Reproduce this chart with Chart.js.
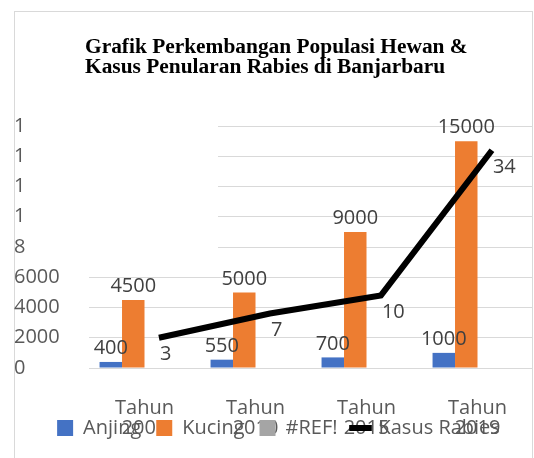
<!DOCTYPE html>
<html><head><meta charset="utf-8">
<script src="https://cdn.jsdelivr.net/npm/chart.js@4"></script>
<style>html,body{margin:0;padding:0;background:#fff;}</style>
</head><body>
<canvas id="c" width="534" height="458"></canvas>
<script>
const titleLines = ['Grafik Perkembangan Populasi Hewan &', 'Kasus Penularan Rabies di Banjarbaru'];
const categoryPrefix = 'Tahun';
const yearLabels = ['2005', '2010', '2015', '2019'];
const anjing = [400, 550, 700, 1000];
const kucing = [4500, 5000, 9000, 15000];
const refErr = [0, 0, 0, 0];
const kasusRabies = [3, 7, 10, 34];
const yTickLabels = ['0', '2000', '4000', '6000', '8', '1', '1', '1', '1'];
const seriesNames = ['Anjing', 'Kucing', '#REF!', 'Kasus Rabies'];
const seriesColors = ['#4472C4', '#ED7D31', '#A5A5A5', '#000000'];

Chart.defaults.font.family = '"Open Sans", sans-serif';
Chart.defaults.font.size = 20;
Chart.defaults.color = '#595959';
// bars share one index axis; the line's own hidden x axis must not split the bar groups
if (Chart.BarController && Chart.BarController.prototype._getAxisCount) {
  Chart.BarController.prototype._getAxisCount = function () { return 1; };
}

const framePlugin = {
  id: 'frameTitle',
  afterLayout(chart) {
    if (chart.legend) { chart.legend.left += 5; chart.legend.right += 5; }
  },
  beforeDraw(chart) {
    const ctx = chart.ctx;
    ctx.save();
    ctx.fillStyle = '#ffffff';
    ctx.fillRect(0, 0, chart.width, chart.height);
    ctx.strokeStyle = '#d9d9d9';
    ctx.lineWidth = 1;
    ctx.strokeRect(14.5, 11.5, 518, 470);
    ctx.fillStyle = '#000000';
    ctx.font = 'bold 21.4px "Liberation Serif", serif';
    ctx.textAlign = 'left';
    ctx.textBaseline = 'alphabetic';
    ctx.fillText(titleLines[0], 85, 53);
    ctx.fillText(titleLines[1], 85, 73);
    ctx.restore();
  }
};

const coverPlugin = {
  id: 'cover',
  beforeDatasetsDraw(chart) {
    const ctx = chart.ctx, a = chart.chartArea, y = chart.scales.y;
    ctx.save();
    ctx.fillStyle = '#ffffff';
    const bottom = y.getPixelForValue(7000);
    ctx.fillRect(a.left, a.top - 4, 129, bottom - a.top + 4);
    ctx.restore();
  }
};

const labelPlugin = {
  id: 'valueLabels',
  afterDatasetsDraw(chart) {
    const ctx = chart.ctx;
    ctx.save();
    ctx.font = '20px "Open Sans", sans-serif';
    ctx.fillStyle = '#404040';
    chart.data.datasets.forEach((ds, di) => {
      if (!ds.showValues) return;
      const meta = chart.getDatasetMeta(di);
      meta.data.forEach((el, i) => {
        const v = ds.data[i];
        const val = (typeof v === 'object' && v !== null) ? v.y : v;
        ctx.textBaseline = 'middle';
        if (ds.type === 'line') {
          ctx.textAlign = 'left';
          ctx.fillText(String(val), el.x + 1, el.y + 17);
        } else {
          ctx.textAlign = 'center';
          ctx.fillText(String(val), el.x, el.y - 13.5);
        }
      });
    });
    ctx.restore();
  }
};

new Chart(document.getElementById('c'), {
  type: 'bar',
  data: {
    labels: yearLabels.map(y => [categoryPrefix, y]),
    datasets: [
      { label: seriesNames[0], data: anjing, backgroundColor: seriesColors[0], borderWidth: 0, pointStyle: 'rect', showValues: true },
      { label: seriesNames[1], data: kucing, backgroundColor: seriesColors[1], borderWidth: 0, pointStyle: 'rect', showValues: true },
      { label: seriesNames[2], data: refErr, backgroundColor: seriesColors[2], borderWidth: 0, pointStyle: 'rect', showValues: false },
      { label: '', data: yearLabels.map(() => null), backgroundColor: 'rgba(0,0,0,0)', borderWidth: 0, showValues: false },
      { type: 'line', label: seriesNames[3], data: kasusRabies.map((v, i) => ({ x: i, y: v })),
        xAxisID: 'x2', yAxisID: 'y2', borderColor: seriesColors[3], backgroundColor: seriesColors[3],
        borderWidth: 6, pointRadius: 0, tension: 0, pointStyle: 'line', showValues: true, order: -1 }
    ]
  },
  options: {
    responsive: false,
    animation: false,
    devicePixelRatio: 1,
    layout: { padding: { top: 126, left: 14, right: 1, bottom: 10 } },
    datasets: { bar: { categoryPercentage: 0.81, barPercentage: 1.0 } },
    plugins: {
      title: { display: false },
      tooltip: { enabled: false },
      legend: {
        position: 'bottom',
        labels: {
          usePointStyle: true,
          boxWidth: 16, boxHeight: 16,
          padding: 15,
          color: '#595959',
          font: { size: 20 },
          filter: item => item.text !== '',
          sort: (a, b) => a.datasetIndex - b.datasetIndex
        }
      }
    },
    scales: {
      x: {
        grid: { display: false },
        border: { display: false },
        ticks: { padding: 22, color: '#595959', font: { size: 20, lineHeight: 1.02 }, z: -1, maxRotation: 0, autoSkip: false },
        afterFit(s) { s.height = 35; s._computeLabelArea = () => null; }
      },
      x2: { type: 'linear', display: false, offset: false, min: -0.63, max: 3.37, grid: { offset: false } },
      y: {
        min: 0, max: 16000,
        ticks: { stepSize: 2000, crossAlign: 'far', color: '#595959', font: { size: 20 }, callback: (v, i) => yTickLabels[i] },
        grid: { color: '#d9d9d9', drawTicks: false },
        border: { display: false },
        afterFit(s) { s.width = 75; }
      },
      y2: { display: false, min: -2, max: 38 }
    }
  },
  plugins: [framePlugin, coverPlugin, labelPlugin]
});
</script>
</body></html>
